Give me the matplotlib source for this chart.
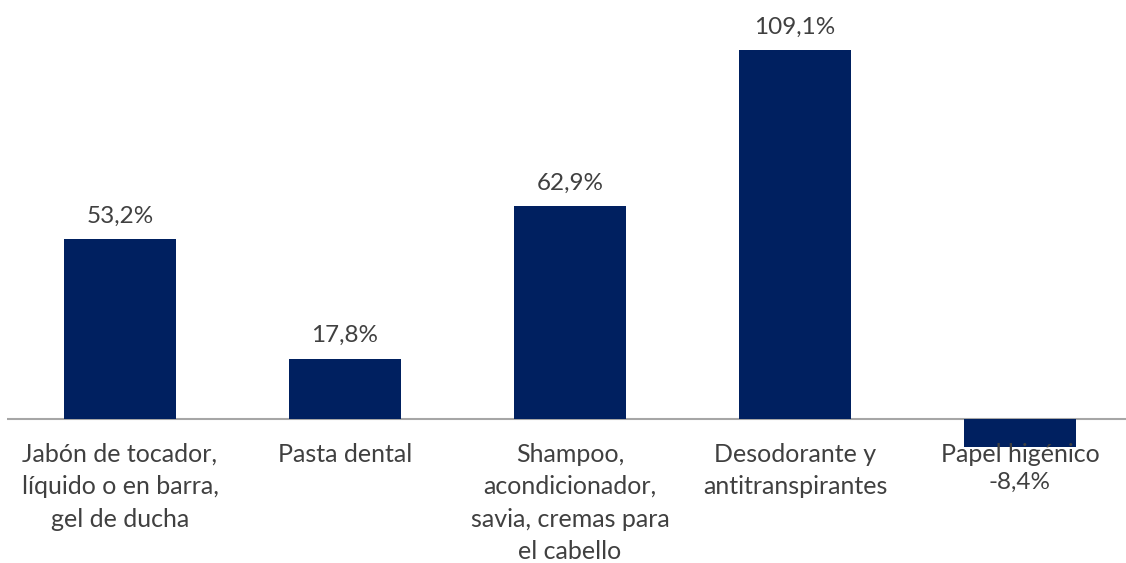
import matplotlib.pyplot as plt

# data
categorias = ["Jabón de tocador,\nlíquido o en barra,\ngel de ducha",
              "Pasta dental",
              "Shampoo,\nacondicionador,\nsavia, cremas para\nel cabello",
              "Desodorante y\nantitranspirantes",
              "Papel higénico"]
variacion = [53.2, 17.8, 62.9, 109.1, -8.4]
etiquetas = ["53,2%", "17,8%", "62,9%", "109,1%", "-8,4%"]

plt.rcParams['font.family'] = ['Lato', 'DejaVu Sans']
txt_color = "#404040"

fig = plt.figure(figsize=(11.26, 5.63), dpi=100)
ax = fig.add_axes([7.5 / 1126, 0, 1125 / 1126, 1])

x = range(len(variacion))
ax.bar(x, variacion, width=0.5, color="#002060", zorder=2)
ax.axhline(0, color="#a6a6a6", linewidth=1.5, zorder=1)

ax.set_xlim(-0.5, 4.5)
ax.set_ylim(-42.6, 123.9)
ax.axis("off")

# valores sobre / bajo las barras
for i, (v, lab) in enumerate(zip(variacion, etiquetas)):
    if v >= 0:
        ax.annotate(lab, (i, v), xytext=(0, 9), textcoords="offset points",
                    ha="center", va="bottom", fontsize=17.5, color=txt_color)
    else:
        ax.annotate(lab, (i, 0), xytext=(0, -38), textcoords="offset points",
                    ha="center", va="top", fontsize=17.5, color=txt_color)

# etiquetas de categoria
for i, cat in enumerate(categorias):
    ax.annotate(cat, (i, 0), xytext=(0, -17), textcoords="offset points",
                ha="center", va="top", fontsize=18, color=txt_color,
                linespacing=1.5, zorder=3)

fig.savefig("out.png", dpi=100)
